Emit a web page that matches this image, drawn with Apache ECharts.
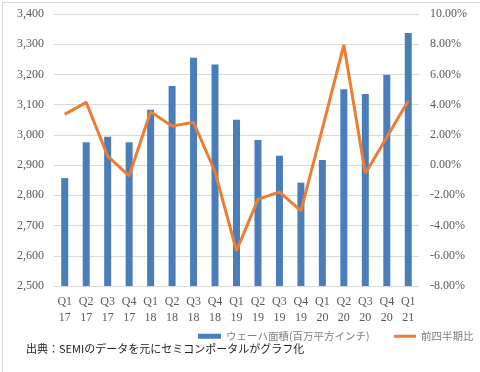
<!DOCTYPE html>
<html>
<head>
<meta charset="utf-8">
<script src="https://cdn.jsdelivr.net/npm/echarts@6/dist/echarts.min.js"></script>
<style>
html,body{margin:0;padding:0;background:#fff;}
#c{width:480px;height:372px;}
</style>
</head>
<body>
<div id="c"></div>
<script>
var quarters = ['Q1','Q2','Q3','Q4','Q1','Q2','Q3','Q4','Q1','Q2','Q3','Q4','Q1','Q2','Q3','Q4','Q1'];
var years = ['17','17','17','17','18','18','18','18','19','19','19','19','20','20','20','20','21'];
var waferArea = [2857, 2976, 2994, 2976, 3083, 3162, 3255, 3233, 3050, 2983, 2931, 2842, 2917, 3151, 3135, 3199, 3337];
var qoqGrowth = [3.36, 4.15, 0.60, -0.71, 3.53, 2.58, 2.83, -0.44, -5.67, -2.27, -1.77, -3.03, 2.42, 7.95, -0.55, 1.85, 4.26];
var seriesNames = ['ウェーハ面積(百万平方インチ)', '前四半期比'];
var sourceText = '出典：SEMIのデータを元にセミコンポータルがグラフ化';

var categories = quarters.map(function(q, i){ return q + '\n' + years[i]; });
var serif = '"Liberation Serif", "DejaVu Serif", serif';
var cjk = '"Noto Sans CJK JP", sans-serif';

var chart = echarts.init(document.getElementById('c'), null, {renderer: 'canvas'});
chart.setOption({
  animation: false,
  backgroundColor: '#fff',
  grid: {left: 54, right: 61, top: 14, bottom: 86, containLabel: false},
  legend: [
    {data: [seriesNames[0]], left: 198, top: 331, padding: 0, icon: 'rect', itemWidth: 23, itemHeight: 5, itemGap: 4,
     textStyle: {fontFamily: cjk, fontSize: 10.5, color: '#7f7f7f'}},
    {data: [seriesNames[1]], left: 394, top: 331, padding: 0, icon: 'rect', itemWidth: 22, itemHeight: 3, itemGap: 4,
     textStyle: {fontFamily: cjk, fontSize: 10.5, color: '#7f7f7f'}}
  ],
  xAxis: {
    type: 'category', data: categories,
    axisLine: {lineStyle: {color: '#d9d9d9'}},
    axisTick: {show: false},
    axisLabel: {fontFamily: serif, fontSize: 12, color: '#595959', lineHeight: 16, margin: 8, interval: 0}
  },
  yAxis: [
    {type: 'value', min: 2500, max: 3400, interval: 100,
     axisLine: {show: false}, axisTick: {show: false},
     splitLine: {lineStyle: {color: '#d9d9d9'}},
     axisLabel: {fontFamily: serif, fontSize: 12, color: '#595959', margin: 10,
       formatter: function(v){ return v.toLocaleString('en-US'); }}},
    {type: 'value', min: -8, max: 10, interval: 2, position: 'right',
     axisLine: {show: false}, axisTick: {show: false}, splitLine: {show: false},
     axisLabel: {fontFamily: serif, fontSize: 12, color: '#595959', margin: 11,
       formatter: function(v){ return v.toFixed(2) + '%'; }}}
  ],
  series: [
    {name: seriesNames[0], type: 'bar', data: waferArea, barWidth: 7, yAxisIndex: 0,
     itemStyle: {color: '#4a7ebb'}},
    {name: seriesNames[1], type: 'line', data: qoqGrowth, yAxisIndex: 1, symbol: 'none',
     lineStyle: {color: '#ed7d31', width: 3}, itemStyle: {color: '#ed7d31'}}
  ],
  graphic: [
    {type: 'rect', left: 0, top: 0, shape: {x: 0.5, y: 0.5, width: 478, height: 370},
     style: {fill: 'none', stroke: '#d9d9d9', lineWidth: 1}, silent: true},
    {type: 'text', left: 26, top: 343, style: {text: sourceText, font: '11px ' + cjk, fill: '#222'}}
  ]
});
</script>
</body>
</html>
